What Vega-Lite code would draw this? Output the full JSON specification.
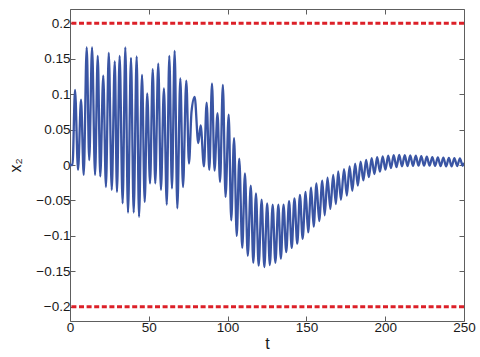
{
  "$schema": "https://vega.github.io/schema/vega-lite/v6.json",
  "width": 394,
  "height": 312,
  "autosize": "none",
  "padding": {"left": 70, "top": 9, "right": 16, "bottom": 36},
  "background": "white",
  "config": {
    "view": {"stroke": null},
    "font": "Liberation Sans",
    "axis": {
      "grid": false,
      "domainColor": "#5e5e5e",
      "tickColor": "#5e5e5e",
      "domainWidth": 1,
      "tickSize": -5,
      "labelFlush": false,
      "labelOverlap": false,
      "labelFont": "Liberation Sans",
      "labelFontSize": 13.5,
      "labelColor": "#1a1a1a",
      "titleFont": "Liberation Sans",
      "titleFontWeight": "normal",
      "titleColor": "#1a1a1a",
      "titleFontSize": 16
    }
  },
  "datasets": {
    "lim": [{"v": 0.2}, {"v": -0.2}],
    "sig": [
      {"t": 0, "v": 0}, {"t": 1.6, "v": 0},
      {"t": 3.2, "v": 0.106}, {"t": 5.1, "v": -0.007}, {"t": 7.0, "v": 0.092}, {"t": 8.7, "v": -0.014},
      {"t": 10.6, "v": 0.166}, {"t": 12.2, "v": 0.007}, {"t": 14.0, "v": 0.166}, {"t": 15.9, "v": -0.014},
      {"t": 17.6, "v": 0.154}, {"t": 19.2, "v": -0.016}, {"t": 21.1, "v": 0.126}, {"t": 22.8, "v": -0.031},
      {"t": 24.6, "v": 0.158}, {"t": 26.5, "v": -0.035}, {"t": 28.4, "v": 0.146}, {"t": 29.8, "v": -0.038},
      {"t": 31.5, "v": 0.154}, {"t": 33.4, "v": -0.054}, {"t": 35.1, "v": 0.166}, {"t": 36.8, "v": -0.067},
      {"t": 38.7, "v": 0.151}, {"t": 40.4, "v": -0.067}, {"t": 42.3, "v": 0.153}, {"t": 43.8, "v": -0.073},
      {"t": 45.7, "v": 0.127}, {"t": 47.4, "v": -0.052}, {"t": 49.0, "v": 0.101}, {"t": 50.8, "v": -0.026},
      {"t": 52.5, "v": 0.135}, {"t": 54.1, "v": -0.026}, {"t": 56.0, "v": 0.143}, {"t": 57.7, "v": -0.035},
      {"t": 59.6, "v": 0.108}, {"t": 61.4, "v": -0.056}, {"t": 63.0, "v": 0.154}, {"t": 64.7, "v": -0.033},
      {"t": 66.4, "v": 0.161}, {"t": 68.1, "v": -0.061}, {"t": 70.0, "v": 0.122}, {"t": 71.7, "v": -0.031},
      {"t": 73.8, "v": 0.119}, {"t": 75.5, "v": 0.002}, {"t": 77.1, "v": 0.075}, {"t": 79.1, "v": 0.096},
      {"t": 81.4, "v": 0.031}, {"t": 82.9, "v": 0.056}, {"t": 85.0, "v": -0.002}, {"t": 86.7, "v": 0.088},
      {"t": 88.4, "v": -0.007}, {"t": 90.1, "v": 0.115}, {"t": 91.7, "v": -0.008}, {"t": 93.6, "v": 0.073},
      {"t": 95.2, "v": -0.024}, {"t": 97.0, "v": 0.113}, {"t": 98.7, "v": -0.045}, {"t": 100.7, "v": 0.071},
      {"t": 102.3, "v": -0.078}, {"t": 104.1, "v": 0.038}, {"t": 105.8, "v": -0.1}, {"t": 107.4, "v": 0.009},
      {"t": 109.3, "v": -0.117}, {"t": 111.0, "v": -0.012}, {"t": 112.8, "v": -0.128}, {"t": 114.7, "v": -0.029},
      {"t": 116.3, "v": -0.138}, {"t": 118.0, "v": -0.04}, {"t": 119.7, "v": -0.142}, {"t": 121.6, "v": -0.049},
      {"t": 123.3, "v": -0.144}, {"t": 125.1, "v": -0.054}, {"t": 126.8, "v": -0.141}, {"t": 128.6, "v": -0.056},
      {"t": 130.3, "v": -0.138}, {"t": 132.2, "v": -0.056}, {"t": 133.8, "v": -0.132}, {"t": 135.5, "v": -0.056},
      {"t": 137.2, "v": -0.123}, {"t": 139.0, "v": -0.051}, {"t": 140.7, "v": -0.117}, {"t": 142.4, "v": -0.047},
      {"t": 144.2, "v": -0.111}, {"t": 145.9, "v": -0.042}, {"t": 147.6, "v": -0.104}, {"t": 149.5, "v": -0.038},
      {"t": 151.1, "v": -0.095}, {"t": 153.0, "v": -0.032}, {"t": 154.6, "v": -0.087}, {"t": 156.4, "v": -0.026},
      {"t": 158.1, "v": -0.079}, {"t": 160.1, "v": -0.022}, {"t": 161.6, "v": -0.071}, {"t": 163.4, "v": -0.018},
      {"t": 165.2, "v": -0.062}, {"t": 167.0, "v": -0.014}, {"t": 168.7, "v": -0.055}, {"t": 170.2, "v": -0.009},
      {"t": 171.9, "v": -0.049}, {"t": 173.9, "v": -0.006}, {"t": 175.65, "v": -0.043}, {"t": 177.4, "v": -0.002},
      {"t": 179.15, "v": -0.0365}, {"t": 180.9, "v": 0.002}, {"t": 182.65, "v": -0.029}, {"t": 184.4, "v": 0.0046},
      {"t": 186.15, "v": -0.0218}, {"t": 187.9, "v": 0.0072}, {"t": 189.65, "v": -0.0171}, {"t": 191.4, "v": 0.0095},
      {"t": 193.15, "v": -0.0128}, {"t": 194.9, "v": 0.011}, {"t": 196.65, "v": -0.0093}, {"t": 198.4, "v": 0.0121},
      {"t": 200.15, "v": -0.0066}, {"t": 201.9, "v": 0.0133}, {"t": 203.65, "v": -0.0043}, {"t": 205.4, "v": 0.014},
      {"t": 207.15, "v": -0.0031}, {"t": 208.9, "v": 0.0141}, {"t": 210.65, "v": -0.0019}, {"t": 212.4, "v": 0.0138},
      {"t": 214.15, "v": -0.0016}, {"t": 215.9, "v": 0.0134}, {"t": 217.65, "v": -0.0012}, {"t": 219.4, "v": 0.0131},
      {"t": 221.15, "v": -0.001}, {"t": 222.9, "v": 0.0124}, {"t": 224.65, "v": -0.001}, {"t": 226.4, "v": 0.0118},
      {"t": 228.15, "v": -0.001}, {"t": 229.9, "v": 0.011}, {"t": 231.65, "v": -0.0012}, {"t": 233.4, "v": 0.0107},
      {"t": 235.15, "v": -0.0015}, {"t": 236.9, "v": 0.0103}, {"t": 238.65, "v": -0.0019}, {"t": 240.4, "v": 0.0099},
      {"t": 242.15, "v": -0.0018}, {"t": 243.9, "v": 0.0096}, {"t": 245.65, "v": -0.0014}, {"t": 247.4, "v": 0.0093},
      {"t": 249.15, "v": -0.0011}, {"t": 250, "v": 0.003}
    ]
  },
  "layer": [
    {
      "data": {"name": "lim"},
      "mark": {"type": "rule", "color": "#dc2028", "strokeWidth": 3, "strokeDash": [5, 2.6]},
      "encoding": {
        "y": {"field": "v", "type": "quantitative", "scale": {"domain": [-0.22, 0.22], "nice": false, "zero": false}, "axis": null}
      }
    },
    {
      "data": {"name": "sig"},
      "mark": {"type": "line", "color": "#3a55a4", "strokeWidth": 2.3, "interpolate": "monotone", "clip": true},
      "encoding": {
        "x": {"field": "t", "type": "quantitative", "scale": {"domain": [0, 250], "nice": false}, "axis": {"orient": "bottom", "values": [0, 50, 100, 150, 200, 250], "title": "t", "labelPadding": 4, "titlePadding": 2}},
        "y": {"field": "v", "type": "quantitative", "scale": {"domain": [-0.22, 0.22], "nice": false, "zero": false}, "axis": {"orient": "left", "values": [-0.2, -0.15, -0.1, -0.05, 0, 0.05, 0.1, 0.15, 0.2], "format": "~g", "title": "x₂", "labelPadding": 5, "titlePadding": 12}}
      }
    },
    {
      "data": {"name": "sig"},
      "mark": {"type": "line", "strokeOpacity": 0},
      "encoding": {
        "x": {"field": "t", "type": "quantitative", "scale": {"domain": [0, 250], "nice": false}, "axis": {"orient": "top", "values": [0, 50, 100, 150, 200, 250], "labels": false, "title": null}},
        "y": {"field": "v", "type": "quantitative", "scale": {"domain": [-0.22, 0.22], "nice": false, "zero": false}, "axis": {"orient": "right", "values": [-0.2, -0.15, -0.1, -0.05, 0, 0.05, 0.1, 0.15, 0.2], "labels": false, "title": null}}
      }
    }
  ],
  "resolve": {"axis": {"x": "independent", "y": "independent"}}
}
